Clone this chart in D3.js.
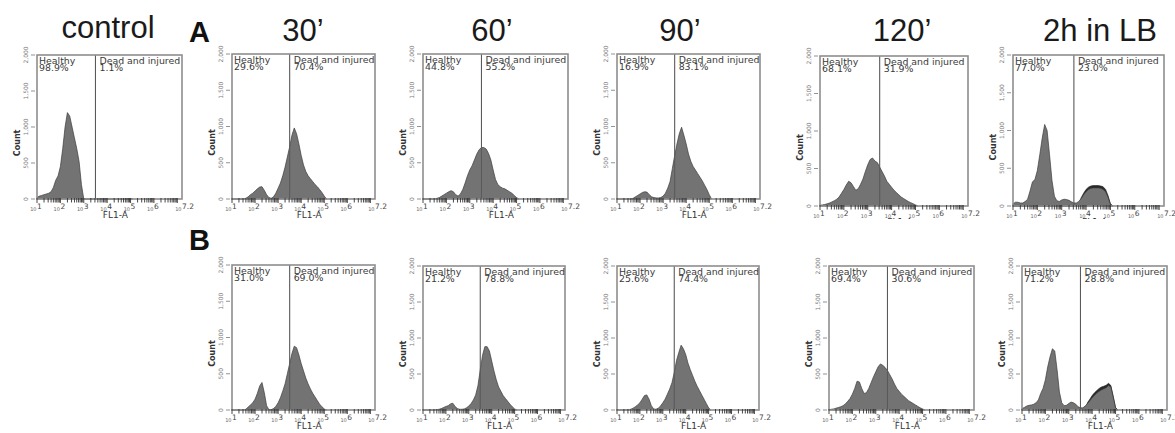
<!DOCTYPE html>
<html>
<head>
<meta charset="utf-8">
<script src="https://cdn.jsdelivr.net/npm/d3@7"></script>
<style>
  body { margin: 0; background: #fff; }
  svg { display: block; }
</style>
</head>
<body>
<svg id="chart" width="1175" height="433"></svg>
<script>
// FL1-A bins (log10 of fluorescence), shared by every histogram
const fl1Exponent = [1.0, 1.1, 1.2, 1.3, 1.4, 1.5, 1.6, 1.7, 1.8, 1.9,
                     2.0, 2.1, 2.2, 2.3, 2.4, 2.5, 2.6, 2.7, 2.8, 2.9,
                     3.0, 3.1, 3.2, 3.3, 3.4, 3.5, 3.6, 3.7, 3.8, 3.9,
                     4.0, 4.1, 4.2, 4.3, 4.4, 4.5, 4.6, 4.7, 4.8, 4.9,
                     5.0, 5.1];

// column titles and gate position (log10)
const conditions = ["control", "30\u2019", "60\u2019", "90\u2019", "120\u2019", "2h in LB"];
const gateExponent = 3.5;

// gate percentages
const healthyA = [98.9, 29.6, 44.8, 16.9, 68.1, 77.0];
const deadA    = [1.1, 70.4, 55.2, 83.1, 31.9, 23.0];
const healthyB = [31.0, 21.2, 25.6, 69.4, 71.2];
const deadB    = [69.0, 78.8, 74.4, 30.6, 28.8];

// axis ticks
const yTicks = [0, 500, 1000, 1500, 2000];
const yTickLabels = ["0", "500", "1,000", "1,500", "2,000"];
const xTickExps = [1, 2, 3, 4, 5, 6, 7.2];
const xTickLabels = ["1", "2", "3", "4", "5", "6", "7.2"];

// counts, row A
const countsA_control = [20, 40, 50, 60, 70, 80, 100, 160, 260, 320,
                         450, 700, 1000, 1200, 1150, 1000, 850, 700, 520, 200,
                         0, 0, 0, 0, 0, 0, 0, 0, 0, 0,
                         0, 0, 0, 0, 0, 0, 0, 0, 0, 0, 0, 0];
const countsA_30 = [0, 0, 0, 0, 0, 0, 10, 30, 60, 80,
                    110, 140, 165, 170, 120, 60, 20, 10, 30, 80,
                    150, 220, 320, 440, 580, 720, 880, 980, 900, 760,
                    600, 470, 380, 320, 280, 240, 200, 170, 130, 90, 40, 0];
const countsA_60 = [0, 0, 0, 0, 0, 0, 10, 20, 40, 60,
                    80, 100, 115, 100, 60, 40, 70, 130, 220, 320,
                    400, 460, 540, 620, 680, 710, 710, 690, 630, 540,
                    400, 270, 200, 170, 150, 140, 120, 100, 80, 50, 20, 0];
const countsA_90 = [0, 0, 0, 0, 0, 0, 0, 10, 30, 50,
                    70, 90, 100, 95, 60, 30, 20, 15, 15, 20,
                    40, 80, 150, 240, 420, 600, 760, 900, 990, 880,
                    760, 620, 520, 450, 400, 350, 300, 250, 190, 130, 60, 0];
const countsA_120 = [10, 15, 20, 30, 40, 55, 70, 90, 120, 170,
                     220, 280, 330, 310, 260, 210, 230, 290, 360, 460,
                     550, 620, 640, 600, 580, 520, 460, 400, 330, 290,
                     250, 210, 180, 150, 120, 100, 80, 60, 45, 30, 15, 0];
const countsA_2h = [30, 50, 50, 40, 40, 60, 90, 200, 320, 350,
                    470, 680, 900, 1080, 1000, 680, 340, 130, 70, 60,
                    80, 90, 85, 75, 55, 40, 40, 60, 100, 150,
                    190, 220, 235, 240, 240, 240, 235, 220, 190, 120, 20, 0];
const countsA_2h_dark = [0, 0, 0, 0, 0, 0, 0, 0, 0, 0,
                         0, 0, 0, 0, 0, 0, 0, 0, 0, 0,
                         0, 0, 0, 0, 0, 0, 0, 0, 110, 170,
                         220, 250, 265, 270, 270, 270, 265, 255, 220, 140, 30, 0];

// counts, row B
const countsB_30 = [0, 0, 0, 0, 0, 0, 10, 40, 70, 100,
                    150, 230, 330, 380, 240, 60, 5, 5, 20, 50,
                    100, 170, 260, 360, 500, 640, 780, 880, 860, 760,
                    640, 540, 440, 360, 290, 230, 180, 130, 80, 45, 15, 0];
const countsB_60 = [0, 0, 0, 0, 0, 0, 5, 10, 20, 35,
                    50, 60, 85, 95, 50, 20, 10, 10, 15, 30,
                    55, 90, 140, 210, 340, 560, 760, 880, 880, 820,
                    680, 540, 420, 320, 260, 200, 160, 120, 80, 45, 15, 0];
const countsB_90 = [0, 0, 0, 0, 0, 5, 10, 25, 45, 70,
                    100, 150, 200, 210, 150, 60, 15, 10, 25, 55,
                    100, 150, 220, 290, 380, 520, 690, 800, 900, 850,
                    770, 650, 560, 480, 400, 330, 270, 210, 150, 90, 30, 0];
const countsB_120 = [5, 10, 15, 25, 35, 45, 60, 85, 120, 160,
                     220, 300, 400, 390, 300, 230, 240, 300, 380, 460,
                     530, 600, 640, 620, 590, 550, 490, 430, 360, 300,
                     260, 220, 190, 160, 130, 110, 90, 70, 50, 30, 15, 0];
const countsB_2h = [20, 35, 55, 65, 70, 80, 100, 140, 230, 300,
                    420, 600, 740, 850, 820, 560, 250, 100, 60, 65,
                    90, 110, 100, 80, 45, 30, 30, 55, 90, 130,
                    170, 205, 235, 260, 280, 295, 310, 340, 320, 180, 30, 0];
const countsB_2h_dark = [0, 0, 0, 0, 0, 0, 0, 0, 0, 0,
                         0, 0, 0, 0, 0, 0, 0, 0, 0, 0,
                         0, 0, 0, 0, 0, 0, 0, 0, 100, 150,
                         200, 240, 270, 300, 320, 330, 345, 370, 340, 190, 35, 0];

function main() {
    const svg = d3.select('#chart');

    // plot boxes [left, top, width, height] as placed in the figure
    const boxesA = [[37, 55, 145, 144], [232, 54, 143, 145], [423, 54, 145, 145],
                    [617, 54, 143, 145], [820, 56, 148, 150], [1013, 55, 151, 151]];
    const boxesB = [[232, 265, 143, 145], [423, 266, 142, 144], [617, 266, 142, 144],
                    [829, 266, 145, 144], [1022, 266, 145, 144]];
    const titleX = [108, 303, 492, 680, 902, 1100];
    const titleY = [38, 41, 41, 41, 41, 41];

    const panelsA = [
        { counts: countsA_control, dark: null },
        { counts: countsA_30, dark: null },
        { counts: countsA_60, dark: null },
        { counts: countsA_90, dark: null },
        { counts: countsA_120, dark: null },
        { counts: countsA_2h, dark: countsA_2h_dark }
    ].map((p, i) => Object.assign(p, { box: boxesA[i], healthy: healthyA[i], dead: deadA[i] }));

    const panelsB = [
        { counts: countsB_30, dark: null },
        { counts: countsB_60, dark: null },
        { counts: countsB_90, dark: null },
        { counts: countsB_120, dark: null },
        { counts: countsB_2h, dark: countsB_2h_dark }
    ].map((p, i) => Object.assign(p, { box: boxesB[i], healthy: healthyB[i], dead: deadB[i] }));

    // top row is cropped just under the axis labels
    svg.append('defs').append('clipPath')
        .attr('id', 'clipA')
        .append('rect')
        .attr('x', 0).attr('y', 0).attr('width', 1175).attr('height', 219);

    // column titles
    svg.selectAll('.title')
        .data(conditions)
        .enter()
        .append('text')
        .attr('class', 'title')
        .attr('x', (d, i) => titleX[i])
        .attr('y', (d, i) => titleY[i])
        .attr('text-anchor', 'middle')
        .style('font-family', '"Liberation Sans", Arial, sans-serif')
        .style('font-size', '31px')
        .style('fill', '#1a1a1a')
        .text(d => d);

    // row letters
    svg.append('text').attr('x', 189).attr('y', 42).text('A')
        .style('font-family', '"Liberation Sans", Arial, sans-serif')
        .style('font-size', '29px').style('font-weight', 'bold').style('fill', '#111');
    svg.append('text').attr('x', 189).attr('y', 250).text('B')
        .style('font-family', '"Liberation Sans", Arial, sans-serif')
        .style('font-size', '29px').style('font-weight', 'bold').style('fill', '#111');

    const rowA = svg.append('g').attr('clip-path', 'url(#clipA)');
    const rowB = svg.append('g');

    panelsA.forEach(p => drawPanel(rowA, p));
    panelsB.forEach(p => drawPanel(rowB, p));
}

function drawPanel(parent, p) {
    const [left, top, w, h] = p.box;
    const font = '"DejaVu Sans", Verdana, sans-serif';

    const g = parent.append('g')
        .attr('transform', `translate(${left}, ${top})`);

    const xScale = d3.scaleLog()
        .domain([10, Math.pow(10, 7.2)])
        .range([0, w]);
    const yScale = d3.scaleLinear()
        .domain([0, 2000])
        .range([h, 0]);

    const area = d3.area()
        .x((d, i) => xScale(Math.pow(10, fl1Exponent[i])))
        .y0(yScale(0))
        .y1(d => yScale(d));

    // darker overlaid histogram (only where it pokes above the grey one)
    if (p.dark) {
        g.append('path')
            .datum(p.dark)
            .attr('d', area)
            .attr('fill', '#2a2a2a')
            .attr('stroke', '#111')
            .attr('stroke-width', 0.6);
    }

    g.append('path')
        .datum(p.counts)
        .attr('d', area)
        .attr('fill', '#737373')
        .attr('stroke', '#3c3c3c')
        .attr('stroke-width', 0.7);

    // gate line
    const gx = xScale(Math.pow(10, gateExponent));
    g.append('line')
        .attr('x1', gx).attr('x2', gx)
        .attr('y1', 0).attr('y2', h)
        .attr('stroke', '#5a5a5a')
        .attr('stroke-width', 1.1);

    // frame
    g.append('rect')
        .attr('x', 0).attr('y', 0)
        .attr('width', w).attr('height', h)
        .attr('fill', 'none')
        .attr('stroke', '#8e8e8e')
        .attr('stroke-width', 1.6);

    // gate labels
    const labels = [
        { x: 2, name: 'Healthy', value: p.healthy },
        { x: gx + 4, name: 'Dead and injured', value: p.dead }
    ];
    labels.forEach(l => {
        g.append('text')
            .attr('x', l.x).attr('y', 9)
            .style('font-family', font).style('font-size', '9.4px').style('fill', '#3a3a3a')
            .text(l.name);
        g.append('text')
            .attr('x', l.x).attr('y', 15.5)
            .style('font-family', font).style('font-size', '9.4px').style('fill', '#3a3a3a')
            .text(l.value.toFixed(1) + '%');
    });

    // y axis ticks and rotated labels
    g.selectAll('.ytick')
        .data(yTicks)
        .enter()
        .append('line')
        .attr('x1', -6).attr('x2', -2)
        .attr('y1', d => yScale(d)).attr('y2', d => yScale(d))
        .attr('stroke', '#777')
        .attr('stroke-width', 0.8);

    g.selectAll('.ylabel')
        .data(yTicks)
        .enter()
        .append('text')
        .attr('transform', d => `translate(-9, ${yScale(d)}) rotate(-90)`)
        .attr('text-anchor', 'middle')
        .style('font-family', font).style('font-size', '6px').style('fill', '#7a7a7a')
        .text((d, i) => yTickLabels[i]);

    g.append('text')
        .attr('transform', `translate(-17, ${h * 0.61}) rotate(-90)`)
        .attr('text-anchor', 'middle')
        .style('font-family', font).style('font-size', '8px')
        .style('font-weight', 'bold').style('fill', '#333')
        .text('Count');

    // x axis: decade and in-between log ticks
    const logTicks = [];
    for (let k = 1; k <= 7; k++) {
        for (let m = 1; m <= 9; m++) {
            const v = m * Math.pow(10, k);
            if (v <= Math.pow(10, 7.2)) logTicks.push({ v: v, major: m === 1 });
        }
    }
    g.selectAll('.xtick')
        .data(logTicks)
        .enter()
        .append('line')
        .attr('x1', d => xScale(d.v)).attr('x2', d => xScale(d.v))
        .attr('y1', h - 1).attr('y2', d => h + (d.major ? 4 : 3.5))
        .attr('stroke', '#333')
        .attr('stroke-width', 0.9);

    xTickExps.forEach((e, i) => {
        const tx = xScale(Math.pow(10, e));
        g.append('text')
            .attr('x', tx - 0.5).attr('y', h + 12)
            .attr('text-anchor', 'end')
            .style('font-family', font).style('font-size', '5px').style('fill', '#666')
            .text('10');
        g.append('text')
            .attr('x', tx).attr('y', h + 9.5)
            .style('font-family', font).style('font-size', '7.5px').style('fill', '#444')
            .text(xTickLabels[i]);
    });

    g.append('text')
        .attr('x', w * 0.54).attr('y', h + 19)
        .attr('text-anchor', 'middle')
        .style('font-family', font).style('font-size', '9px').style('fill', '#333')
        .text('FL1-A');
}

main();
</script>
</body>
</html>
